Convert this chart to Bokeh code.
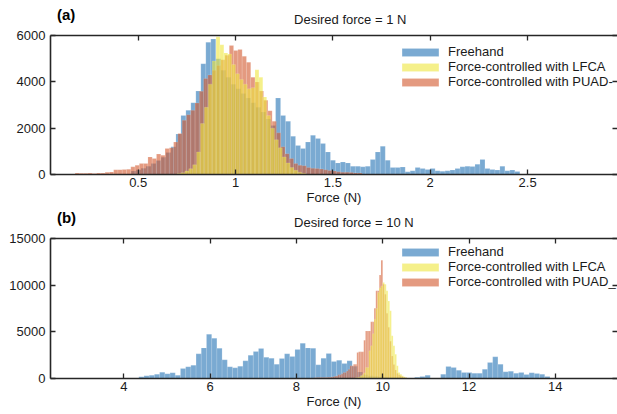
import numpy as np
from bokeh.plotting import figure
from bokeh.models import (Range1d, FixedTicker, CustomJSTickFormatter, LinearAxis,
                          Legend, LegendItem)
from bokeh.core.properties import value
from bokeh.layouts import column
from bokeh.embed import file_html
from bokeh.resources import INLINE

# ---------------- data: panel (a), desired force = 1 N ----------------
a_title = "Desired force = 1 N"
a_tag = "(a)"
a_xlim = (0.0496, 2.9618)
a_ymax = 6000
a_xticks = [0.5, 1, 1.5, 2, 2.5]
a_xtick_labels = ["0.5", "1", "1.5", "2", "2.5"]
a_yticks = [0, 2000, 4000, 6000]
a_ytick_labels = ["0", "2000", "4000", "6000"]

a_free_start, a_free_width = 0.4634, 0.0256
a_free_counts = [150, 200, 270, 360, 480, 600, 750, 950, 1200, 1750,
                 2550, 2770, 3100, 3600, 4780, 5710, 5850, 5000, 4500, 4200,
                 3900, 3700, 3500, 3300, 3100, 2900, 2700, 2400, 2120, 3300,
                 2550, 2300, 1650, 1250, 1120, 1400,
                 1690, 1550, 1335, 975, 620, 500, 540, 500, 360, 360,
                 330, 360, 650, 975, 1220, 620, 300, 300, 320, 115,
                 160, 300, 260, 215, 260, 160, 140, 160, 190, 260,
                 330, 360, 340, 445, 650, 260, 215, 190, 360, 160,
                 190, 130]

a_lfca_start, a_lfca_width = 0.70, 0.02
a_lfca_counts = [40, 80, 150, 250, 420, 975, 2200, 2900, 3900, 4900,
                 5950, 5600, 5250, 5200, 4750, 4350, 4100, 3900, 3700, 3750,
                 4520, 4200, 3350, 2550, 2000, 1500, 1150, 760, 500, 300,
                 180, 100, 50]

a_puad_start, a_puad_width = 0.176, 0.022
a_puad_counts = [60, 55, 50, 60, 45, 70, 60, 100, 110, 200,
                 210, 220, 230, 330, 400, 470, 480, 760, 690, 880,
                 830, 1120, 1160, 1400, 1770, 2340, 2580, 2770, 3090, 3590,
                 4140, 4300, 4500, 4700, 4950, 5150, 5570, 5350, 5400, 5100,
                 4850, 4200, 3990, 3600, 3200, 2750, 2300, 1800, 1200, 900,
                 690, 470, 400, 380, 300, 270, 260, 240, 200, 170,
                 150, 120, 100, 100, 90, 70, 60]

# ---------------- data: panel (b), desired force = 10 N ----------------
b_title = "Desired force = 10 N"
b_tag = "(b)"
b_xlim = (2.301, 15.441)
b_ymax = 15000
b_xticks = [4, 6, 8, 10, 12, 14]
b_xtick_labels = ["4", "6", "8", "10", "12", "14"]
b_yticks = [0, 5000, 10000, 15000]
b_ytick_labels = ["0", "5000", "10000", "15000"]

b_free_start, b_free_width = 4.348, 0.1206
b_free_counts = [180, 285, 357, 464, 678, 500, 607, 357, 1070, 1250,
                 1430, 2640, 3280, 4750, 4320, 3250, 2000, 1250, 1140, 1320,
                 1890, 2500, 2890, 3210, 2280, 2180, 1535, 2140, 2640, 2360,
                 3100, 3780, 3280, 3250, 1460, 2180, 2680, 1820, 1960, 1600,
                 1890, 1300, 700, 400, 300, 250, 200, 150, 120, 100,
                 80, 60,
                 60, 140, 215, 357, 0, 0, 464, 1285, 1180, 890,
                 640, 640, 570, 570, 1000, 1710, 2320, 1535, 714, 785,
                 570, 640, 430, 607, 535, 464, 215]

b_lfca_start, b_lfca_width = 9.36, 0.04
b_lfca_counts = [80, 100, 150, 300, 390, 600, 1180, 1180, 2960, 3500,
                 4800, 6350, 7500, 9210, 9700, 9920, 10280, 10100, 9390, 8300,
                 7250, 4570, 3500, 2600, 1360, 640, 450, 285, 200, 100,
                 60]

b_puad_start, b_puad_width = 8.40, 0.04
b_puad_counts = [80, 90, 100, 100, 110, 100, 120, 110, 130, 140,
                 160, 200, 250, 260, 390, 400, 500, 640, 650, 800,
                 1000, 1360, 1360, 1535, 1535, 2780, 2860, 2860, 2860, 4100,
                 5100, 5100, 5100, 6070, 6070, 7530, 9390, 9390, 11100, 12670,
                 10100, 9030, 7000, 5500, 4000, 2400, 1500, 900, 550, 400,
                 300, 200, 120, 80]

series_names = ["Freehand", "Force-controlled with LFCA"]
a_puad_name = "Force-controlled with PUAD-"
b_puad_name = "Force-controlled with PUAD_"

# ---------------- styling ----------------
W = 617
FONT = "Liberation Sans"
TEXT = "#1a1a1a"
AXC = "#262626"
C_FREE = "#2171b4"
C_LFCA = "#eee63c"
C_PUAD = "#d2572b"
ALPHA = 0.6

FMT_CODE = """
let out = "";
for (let i = 0; i < tick_vals.length; i++) {
  if (Math.abs(tick_vals[i] - tick) < 1e-6 * Math.max(1, Math.abs(tick))) { out = tick_texts[i]; }
}
return out;
"""
BLANK = CustomJSTickFormatter(code='return "";')


def style_axis(ax, show_labels=True, show_line=True):
    ax.axis_line_color = AXC if show_line else None
    ax.axis_line_width = 1.6
    ax.major_tick_line_color = AXC
    ax.major_tick_line_width = 1.3
    ax.major_tick_in = 5
    ax.major_tick_out = 0
    ax.minor_tick_line_color = None
    ax.major_label_text_font = FONT
    ax.major_label_text_color = TEXT
    if show_labels:
        ax.major_label_text_font_size = "13px"
    else:
        ax.major_label_text_font_size = "0px"
        ax.major_label_standoff = 0
    ax.axis_label_text_font = FONT
    ax.axis_label_text_font_size = "13px"
    ax.axis_label_text_font_style = "normal"
    ax.axis_label_text_color = TEXT


def edges(start, width, n):
    return start + width * np.arange(n + 1)


def header(tag, title, height, tag_y, title_y):
    """Strip above a panel holding the panel tag and its title (pixel coordinates)."""
    h = figure(width=W, height=height, x_range=Range1d(0, W), y_range=Range1d(0, height),
               output_backend="svg", toolbar_location=None,
               x_axis_location=None, y_axis_location=None,
               min_border=0, min_border_left=0, min_border_right=0,
               min_border_top=0, min_border_bottom=0)
    h.outline_line_color = None
    h.xgrid.visible = False
    h.ygrid.visible = False
    h.text(x=[7], y=[tag_y], text=[tag], text_font=value(FONT), text_font_size="15px",
           text_font_style="bold", text_color="#000000",
           text_align="left", text_baseline="middle")
    h.text(x=[265], y=[title_y], text=[title], text_font=value(FONT), text_font_size="13px",
           text_color=TEXT, text_align="left", text_baseline="middle")
    return h


def panel(xlim, ymax, xticks, xlabels, yticks, ylabels,
          free, lfca, puad, puad_name, height, top, bottom, legend_y):
    p = figure(width=W, height=height,
               x_range=Range1d(*xlim), y_range=Range1d(0, ymax),
               output_backend="svg", toolbar_location=None,
               x_axis_location=None, y_axis_location=None,
               min_border_left=50, min_border_right=0,
               min_border_top=top, min_border_bottom=bottom)
    p.outline_line_color = None
    p.background_fill_color = "white"
    p.border_fill_color = "white"
    p.xgrid.visible = False
    p.ygrid.visible = False

    renderers = {}
    # draw order: Freehand, PUAD, LFCA
    for key, (start, width, counts), color in [("free", free, C_FREE),
                                                ("puad", puad, C_PUAD),
                                                ("lfca", lfca, C_LFCA)]:
        e = edges(start, width, len(counts))
        renderers[key] = p.quad(left=e[:-1], right=e[1:], bottom=0, top=counts,
                                fill_color=color, fill_alpha=ALPHA,
                                line_color="white", line_alpha=0.2, line_width=0.7)

    fx = CustomJSTickFormatter(args=dict(tick_vals=xticks, tick_texts=xlabels), code=FMT_CODE)
    fy = CustomJSTickFormatter(args=dict(tick_vals=yticks, tick_texts=ylabels), code=FMT_CODE)

    xb = LinearAxis(ticker=FixedTicker(ticks=xticks), formatter=fx, axis_label="Force (N)")
    style_axis(xb)
    xb.major_label_standoff = 3
    xb.axis_label_standoff = 0
    p.add_layout(xb, "below")

    xt = LinearAxis(ticker=FixedTicker(ticks=xticks), formatter=BLANK)
    style_axis(xt, show_labels=False)
    p.add_layout(xt, "above")

    yl = LinearAxis(ticker=FixedTicker(ticks=yticks), formatter=fy)
    style_axis(yl)
    yl.major_label_standoff = 5
    p.add_layout(yl, "left")

    yr = LinearAxis(ticker=FixedTicker(ticks=yticks), formatter=BLANK)
    style_axis(yr, show_labels=False, show_line=False)
    p.add_layout(yr, "right")

    legend = Legend(items=[LegendItem(label=series_names[0], renderers=[renderers["free"]]),
                           LegendItem(label=series_names[1], renderers=[renderers["lfca"]]),
                           LegendItem(label=puad_name, renderers=[renderers["puad"]])],
                    location=(347, legend_y), orientation="vertical",
                    glyph_width=46, glyph_height=10, label_height=14,
                    spacing=0, padding=0, margin=0, label_standoff=5,
                    border_line_alpha=0, background_fill_alpha=0,
                    label_text_font=FONT, label_text_font_size="13px",
                    label_text_color=TEXT)
    p.add_layout(legend)
    return p


ha = header(a_tag, a_title, height=27, tag_y=13, title_y=7.8)
pa = panel(a_xlim, a_ymax, a_xticks, a_xtick_labels, a_yticks, a_ytick_labels,
           (a_free_start, a_free_width, a_free_counts),
           (a_lfca_start, a_lfca_width, a_lfca_counts),
           (a_puad_start, a_puad_width, a_puad_counts),
           a_puad_name, height=180, top=8, bottom=33, legend_y=85)

hb = header(b_tag, b_title, height=23, tag_y=12.7, title_y=7.8)
pb = panel(b_xlim, b_ymax, b_xticks, b_xtick_labels, b_yticks, b_ytick_labels,
           (b_free_start, b_free_width, b_free_counts),
           (b_lfca_start, b_lfca_width, b_lfca_counts),
           (b_puad_start, b_puad_width, b_puad_counts),
           b_puad_name, height=184, top=8, bottom=36, legend_y=89)

layout = column(ha, pa, hb, pb, spacing=0)
open("out.html", "w").write(file_html(layout, INLINE))
